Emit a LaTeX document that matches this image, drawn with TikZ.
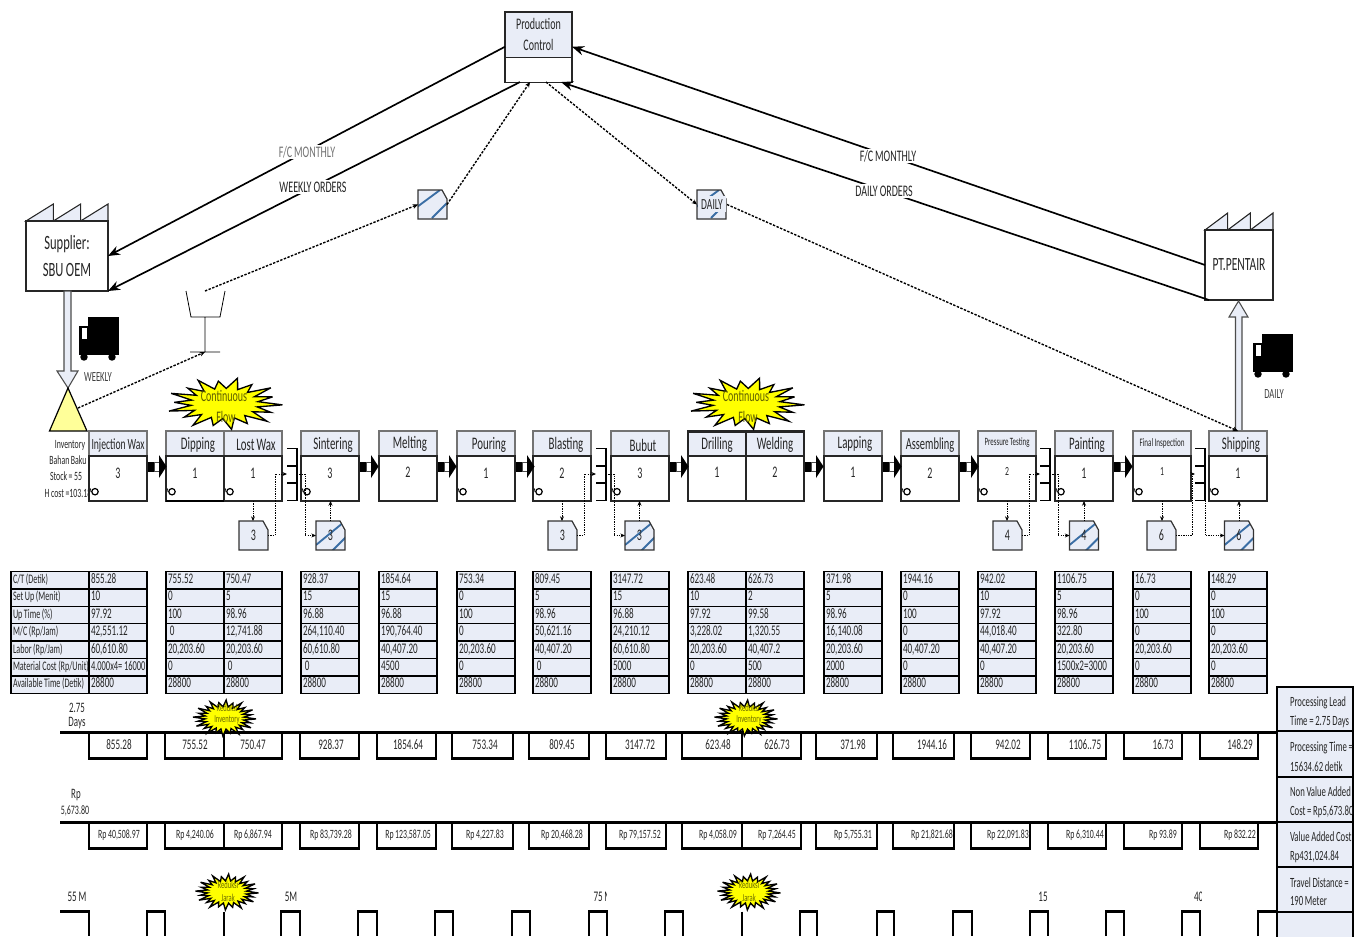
\documentclass[tikz,border=0pt]{standalone}
\usepackage{fontspec}
\setmainfont[FakeStretch=0.62,WordSpace=0.85]{Carlito}
\usetikzlibrary{arrows.meta}
\definecolor{lb}{HTML}{E9EDF7}
\definecolor{txt}{HTML}{262626}
\definecolor{burstY}{HTML}{FFFF00}
\definecolor{triY}{HTML}{FFFF99}
\definecolor{olive1}{HTML}{5F5F00}
\definecolor{olive2}{HTML}{6A6A00}
\definecolor{stripe}{HTML}{3A6EA5}
\newcommand\fsz[1]{\fontsize{\fpeval{1.1*#1}}{\fpeval{1.1*#1}}\selectfont}
\newcommand\nat[1]{\mbox{\spaceskip=0pt\xspaceskip=0pt\relax #1}}
\tikzset{
  x=0.75pt,y=-0.75pt,
  every node/.style={text=txt,inner sep=0pt,outer sep=0pt},
  hdrbox/.style={draw=black!55,line width=.8pt,fill=lb,minimum width=43.5pt,minimum height=18.75pt,anchor=north west},
  bodybox/.style={draw=black!85,line width=.9pt,fill=white,minimum width=43.5pt,minimum height=33.75pt,anchor=north west},
  cell/.style={draw=black,line width=.95pt,fill=lb,minimum width=43.5pt,minimum height=13.05pt,text width=40.5pt,inner xsep=1.5pt,inner ysep=0pt,align=left,anchor=north west,text height=7pt,text depth=2pt,font=\fsz{10}},
  labelcell/.style={cell,minimum width=58.5pt,text width=55.5pt,font=\fsz{8.9}},
  solidline/.style={draw=black,line width=1.25pt,-{Stealth[length=9pt,width=7pt]}},
  dotline/.style={draw=black,line width=1.05pt,dash pattern=on 1.8pt off 1.1pt,-{Stealth[length=4pt,width=3.5pt]}},
  fineline/.style={draw=black,line width=.6pt,dash pattern=on 1pt off .8pt,-{Stealth[length=3.5pt,width=3pt]}},
  tl/.style={draw=black,line width=2.2pt,line cap=butt,line join=miter},
  lbl/.style={fill=white,inner xsep=1pt,inner ysep=1pt,font=\fsz{11}},
  sumtxt/.style={anchor=west,font=\fsz{9.6}},
  cardtxt/.style={minimum width=21.75pt,minimum height=21.75pt,anchor=north west,font=\fsz{11}},
}
\newcommand\tcell[4]{\node[cell] (#1) at (#2,{571.5+17.4*#3}) {\nat{#4}};}
\newcommand\tcol[9]{\tcell{#1a}{#2}{0}{#3}\tcell{#1b}{#2}{1}{#4}\tcell{#1c}{#2}{2}{#5}\tcell{#1d}{#2}{3}{#6}\tcell{#1e}{#2}{4}{#7}\tcell{#1f}{#2}{5}{#8}\tcell{#1g}{#2}{6}{#9}}
\newcommand\burst[7]{\filldraw[fill=burstY,draw=black,line width=#7,line join=miter,miter limit=6] plot[samples at={0,...,#5},variable=\t] ({#1+#3*(mod(\t,2)==0 ? 1-0.2*mod(\t*3,4)/3 : #6)*cos(\t/(#5+1)*360+3)},{#2+#4*(mod(\t,2)==0 ? 1-0.2*mod(\t*5,4)/3 : #6)*sin(\t/(#5+1)*360+3)}) -- cycle;}
\newcommand\push[1]{\fill[black] (#1+1,462) rectangle (#1+7,472);\draw[black!70,line width=.6pt,fill=white] (#1+7,462.3) rectangle (#1+12,471.7);\fill[black] (#1+12,455) -- (#1+19.5,466.5) -- (#1+12,478) -- cycle;}
\newcommand\clk[1]{\draw[black,line width=.9pt] (#1,491.7) circle[radius=2.4pt];\draw[black,line width=.6pt] (#1-4.5,488.5) -- (#1-4,492);}
\newcommand\smk[1]{\draw[black,line width=.9pt] (#1,448.5) -- (#1+10,448.5) -- (#1+10,500.7) -- (#1,500.7);\draw[black,line width=1.2pt] (#1,466) -- (#1+10,466) (#1,483) -- (#1+10,483);}
\newcommand\cardpath{(0,0) -- (24,0) -- (29,9) -- (29,29) -- (0,29) -- cycle}
\newcommand\docshape[2]{\filldraw[shift={(#1,#2)},fill=lb,draw=black!80,line width=.9pt] \cardpath;}
\newcommand\stripes[3]{\begin{scope}[shift={(#1,#2)}]\fill[lb] \cardpath;\begin{scope}\clip \cardpath;\draw[stripe,line width=1.4pt] #3;\end{scope}\draw[black!80,line width=.9pt] \cardpath;\end{scope}}
\newcommand\truck[2]{\fill[black] (#1+9,#2) rectangle (#1+40,#2+38);\fill[black] (#1,#2+9) rectangle (#1+10,#2+38);\fill[white] (#1+3,#2+11) rectangle (#1+8,#2+22);\fill[black] (#1+5,#2+40) circle[radius=2.8pt] (#1+33,#2+40) circle[radius=2.8pt];}
\newcommand\factory[4]{\filldraw[fill=lb,draw=black!85,line width=.8pt] (#1,#3) -- (#1+#2,#4) -- (#1+#2,#3) -- cycle (#1+#2,#3) -- (#1+2*#2,#4) -- (#1+2*#2,#3) -- cycle (#1+2*#2,#3) -- (#1+3*#2,#4) -- (#1+3*#2,#3) -- cycle;}
\begin{document}
\begin{tikzpicture}
\useasboundingbox (0,0) rectangle (1363,936);
% production control
\node[draw=black!85,line width=.8pt,fill=lb,minimum width=50.25pt,minimum height=34.1pt,anchor=north west,align=center,font=\fontsize{12.1}{15.75}\selectfont] (pcH) at (505,12) {Production\\Control};
\node[draw=black!85,line width=.8pt,fill=white,minimum width=50.25pt,minimum height=18.4pt,anchor=north west] (pcB) at (505,57.5) {};
% supplier, customer
\factory{26}{27.33}{221}{204}
\node[draw=black!85,line width=.8pt,fill=white,minimum width=61.5pt,minimum height=52.5pt,anchor=north west,align=center,font=\fontsize{15.2}{19.5}\selectfont] (sup) at (26,221) {\raisebox{-1.5pt}{Supplier:}\\\raisebox{-2pt}{SBU OEM}};
\factory{1205}{22.67}{230}{213}
\node[draw=black!85,line width=.8pt,fill=white,minimum width=51pt,minimum height=52.5pt,anchor=north west,font=\fsz{12.7}] (pent) at (1205,230) {\raisebox{-2pt}{PT.PENTAIR}};
% information lines
\draw[solidline] ([yshift=-9pt]pcH.west) -- (sup.east);
\draw[solidline] ([xshift=11.25pt]pcB.south west) -- (sup.south east);
\draw[solidline] (pent.west) -- ([yshift=-9pt]pcH.east);
\draw[solidline] ([xshift=3pt]pent.south west) -- ([xshift=-8.25pt]pcB.south east);
\node[lbl,text=black!55] (lfc) at (307,152) {F/C MONTHLY};
\node[lbl] (lwo) at (313,187) {WEEKLY ORDERS};
\node[lbl] (rfc) at (888,156) {F/C MONTHLY};
\node[lbl] (rdo) at (884,191) {DAILY ORDERS};
% arrows and trucks
\filldraw[fill=lb,draw=black!70,line width=.8pt] (64,291) -- (71,291) -- (71,371) -- (78,371) -- (68,388) -- (57,371) -- (64,371) -- cycle;
\filldraw[fill=lb,draw=black!70,line width=.8pt] (1235.5,431) -- (1235.5,317) -- (1229,317) -- (1238.5,301) -- (1248,317) -- (1242,317) -- (1242,431) -- cycle;
\truck{79}{317}
\truck{1253}{334}
\node[text=black!75,font=\fsz{9.5}] (wk) at (98,377) {WEEKLY};
\node[text=black!75,font=\fsz{9.5}] (dl) at (1274,394) {DAILY};
% inventory triangle
\filldraw[fill=triY,draw=black,line width=.9pt] (68,388) -- (87,431) -- (49.5,431) -- cycle;
\coordinate (trir) at (78,408);
\node[font=\fsz{8.6}] (inv1) at (70,445) {Inventory};
\node[font=\fsz{8.6}] (inv2) at (68,460) {Bahan Baku};
\node[font=\fsz{8.6}] (inv3) at (66,476) {Stock = 55};
\node[font=\fsz{8.6}] (inv4) at (68,493) {H cost =103.18};
% kanban post
\draw[black,line width=.6pt] (186,291) -- (191,317) -- (220,317) -- (225,291) (205,317) -- (205,352) (190,352) -- (220,352);
\coordinate (posttop) at (205,291);
\coordinate (postbase) at (205,352);
% signal cards
\stripes{418}{190}{(-1,17) -- (22,0) (14,28) -- (29,13)}
\node[minimum width=21.75pt,minimum height=21.75pt,anchor=north west] (mail) at (418,190) {};
\stripes{697}{190}{(-1,17) -- (22,0) (14,28) -- (29,13)}
\fill[lb] (698,196) rectangle (725.5,212);
\node[minimum width=22.5pt,minimum height=21.75pt,anchor=north west,font=\fsz{10.5}] (daily) at (697,190) {DAILY};
\draw[dotline] (posttop) -- (mail.west);
\draw[dotline] (mail.east) -- ([xshift=18.75pt]pcB.south west);
\draw[dotline] ([xshift=30.75pt]pcB.south west) -- (daily.west);
\draw[dotline] (trir) -- (postbase);
% processes
\foreach \id/\x/\nm/\num/\sz/\nsz/\dx/\ny/\hy in {
 inj/89/Injection Wax/3/10.6/11/0/473/445,
 dip/166/Dipping/1/12/11/3/473/445,
 lw/224/Lost Wax/1/12/11/3/473/445,
 sin/301/Sintering/3/12/11/3/473/445,
 mel/379/Melting/2/12/11/2/472/444,
 pou/457/Pouring/1/12/11/3/473/445,
 bla/533/Blasting/2/12/11/4/473/445,
 bub/611/Bubut/3/12/11/3/473/445,
 dri/688/Drilling/1/12/11/0/472/445,
 wel/746/Welding/2/12/11/0/472/445,
 lap/824/Lapping/1/12/11/2/472/444,
 ass/901/Assembling/2/11.5/11/0/473/445,
 pre/978/Pressure Testing/2/7.6/8.5/0/471/443,
 pai/1055/Painting/1/12/11/3/473/445,
 fin/1133/Final Inspection/1/7.8/8.5/0/471/443,
 shi/1209/Shipping/1/12/11/3/473/445}{
  \node[hdrbox] (\id h) at (\x,431) {};
  \node[bodybox] (\id) at (\x,456) {};
  \node[font=\fsz{\sz}] (\id t) at ({\x+29+\dx},\hy) {\nm};
  \node[font=\fsz{\nsz}] (\id n) at ({\x+29},\ny) {\num};
}
\draw[black!85,line width=1.6pt] (688,431.5) rectangle (746,456) (746,431.5) rectangle (804,456);
\draw[black,line width=.9pt] (166,501) -- (224,501);
\foreach \cx in {95,172,230,307,463,539,617,907,984,1061,1139,1215}{\clk{\cx}}
\foreach \px in {147,359,437,515,669,804,882,959,1113}{\push{\px}}
\smk{287}\smk{596}\smk{1040}\smk{1195}
\draw[dotline] (daily.east) -- (shih.north);
% kanbans
\foreach \i/\ax/\bx in {1/239/316,2/548/625,3/993/1069.5,4/1147/1224.5}{
  \docshape{\ax}{521}
  \stripes{\bx}{521}{(0,24) -- (28,1) (15,31) -- (32,14)}
}
\node[cardtxt] (k1) at (239,521) {3};
\node[cardtxt] (w1) at (316,521) {3};
\node[cardtxt] (k2) at (548,521) {3};
\node[cardtxt] (w2) at (625,521) {3};
\node[cardtxt] (k3) at (993,521) {4};
\node[cardtxt] (w3) at (1069.5,521) {4};
\node[cardtxt] (k4) at (1147,521) {6};
\node[cardtxt] (w4) at (1224.5,521) {6};
\coordinate (s1i) at (287,474);\coordinate (s1o) at (297,474);
\coordinate (s2i) at (596,474);\coordinate (s2o) at (606,474);
\coordinate (s3i) at (1040,474);\coordinate (s3o) at (1050,474);
\coordinate (s4i) at (1195,474);\coordinate (s4o) at (1205,474);
\draw[fineline] (lw.south) -- (lw.south |- k1.north);
\draw[fineline] (bla.south) -- (bla.south |- k2.north);
\draw[fineline] (pre.south) -- (pre.south |- k3.north);
\draw[fineline] (fin.south) -- (fin.south |- k4.north);
\draw[fineline] (k1.east) -- ++(7,0) |- (s1i);
\draw[fineline] (k2.east) -- ++(7,0) |- (s2i);
\draw[fineline] (k3.east) -- ++(7,0) |- (s3i);
\draw[fineline] (k4.east) -- ++(16,0) |- (s4i);
\draw[fineline] (s1o) -- ++(8,0) |- (w1.west);
\draw[fineline] (s2o) -- ++(8,0) |- (w2.west);
\draw[fineline] (s3o) -- ++(8,0) |- (w3.west);
\draw[fineline] (s4o) |- (w4.west);
\draw[fineline] (w1.north) -- (w1.north |- sin.south);
\draw[fineline] (w2.north) -- (w2.north |- bub.south);
\draw[fineline] (w3.north) -- (w3.north |- pai.south);
\draw[fineline] (w4.north) -- (w4.north |- shi.south);
% bursts on processes
\burst{224.5}{403.5}{58}{26}{35}{0.58}{1pt}
\node[text=olive1,font=\fsz{11}] (cf1a) at (224,396) {Continuous};
\node[text=olive1,font=\fsz{11}] (cf1b) at (226,417) {Flow};
\burst{746.5}{403.5}{58}{26}{35}{0.58}{1pt}
\node[text=olive1,font=\fsz{11}] (cf2a) at (746,396) {Continuous};
\node[text=olive1,font=\fsz{11}] (cf2b) at (748,417) {Flow};
% data table
\node[labelcell] (la) at (11,571.5) {\nat{C/T (Detik)}};
\node[labelcell] (lb1) at (11,588.9) {\nat{Set Up (Menit)}};
\node[labelcell] (lc) at (11,606.3) {\nat{Up Time (\%)}};
\node[labelcell] (ld) at (11,623.7) {\nat{M/C (Rp/Jam)}};
\node[labelcell] (le) at (11,641.1) {\nat{Labor (Rp/Jam)}};
\node[labelcell] (lf) at (11,658.5) {\nat{Material Cost (Rp/Unit)}};
\node[labelcell] (lg) at (11,675.9) {\nat{Available Time (Detik)}};
\tcol{c1}{89}{855.28}{10}{97.92}{42,551.12}{60,610.80}{\fsz{9.3}4.000x4= 16000}{28800}
\tcol{c2}{166}{755.52}{0}{100}{\ 0}{20,203.60}{0}{28800}
\tcol{c3}{224}{750.47}{5}{98.96}{12,741.88}{20,203.60}{\ 0}{28800}
\tcol{c4}{301}{928.37}{15}{96.88}{264,110.40}{60,610.80}{\ 0}{28800}
\tcol{c5}{379}{1854.64}{15}{96.88}{190,764.40}{40,407.20}{4500}{28800}
\tcol{c6}{457}{753.34}{0}{100}{0}{20,203.60}{0}{28800}
\tcol{c7}{533}{809.45}{5}{98.96}{50,621.16}{40,407.20}{\ 0}{28800}
\tcol{c8}{611}{3147.72}{15}{96.88}{24,210.12}{60,610.80}{5000}{28800}
\tcol{c9}{688}{623.48}{10}{97.92}{3,228.02}{20,203.60}{0}{28800}
\tcol{c10}{746}{626.73}{2}{99.58}{1,320.55}{40,407.2}{500}{28800}
\tcol{c11}{824}{371.98}{5}{98.96}{16,140.08}{20,203.60}{2000}{28800}
\tcol{c12}{901}{1944.16}{0}{100}{0}{40,407.20}{0}{28800}
\tcol{c13}{978}{942.02}{10}{97.92}{44,018.40}{40,407.20}{0}{28800}
\tcol{c14}{1055}{1106.75}{5}{98.96}{322.80}{20,203.60}{1500x2=3000}{28800}
\tcol{c15}{1133}{16.73}{0}{100}{0}{20,203.60}{0}{28800}
\tcol{c16}{1209}{148.29}{0}{100}{0}{20,203.60}{0}{28800}
% timeline frames
\foreach \yt/\yb in {732.3/758.5,822.3/848.3}{
  \draw[tl] (60,\yt) -- (1277,\yt);
  \foreach \a/\b in {89/147,165/282,300/359,377/436,452/513,529/589,606/666,682/801,816/877,893/954,971/1030,1048/1106,1124/1182,1200/1258}{
    \draw[tl] (\a,\yt) -- (\a,\yb) -- (\b,\yb) -- (\b,\yt);
  }
  \draw[tl] (224,\yt) -- (224,\yb) (742,\yt) -- (742,\yb);
}
\draw[tl] (60,911.7) -- (89,911.7) -- (89,936);
\foreach \a/\b in {147/165,281/300,358/377,435/453,512/530,589/607,665/683,800/817,877/894,953/972,1030/1048,1106/1124,1182/1200,1258/1277}{
  \draw[tl] (\a,936) -- (\a,911.7) -- (\b,911.7) -- (\b,936);
}
\draw[tl] (224,911.7) -- (224,936) (742,911.7) -- (742,936);
\foreach \n/\x/\tv/\cv in {
 1/119/855.28/{Rp 40,508.97},
 2/195/755.52/{Rp 4,240.06},
 3/253/750.47/{Rp 6,867.94},
 4/331/928.37/{Rp 83,739.28},
 5/408/1854.64/{Rp 123,587.05},
 6/485/753.34/{Rp 4,227.83},
 7/562/809.45/{Rp 20,468.28},
 8/640/3147.72/{Rp 79,157.52},
 9/718/623.48/{Rp 4,058.09},
 10/777/626.73/{Rp 7,264.45},
 11/853/371.98/{Rp 5,755.31},
 12/932/1944.16/{Rp 21,821.68},
 13/1008/942.02/{Rp 22,091.83},
 14/1085/1106..75/{Rp 6,310.44},
 15/1163/16.73/{Rp 93.89},
 16/1240/148.29/{Rp 832.22}}{
  \node[font=\fsz{10}] (t\n) at (\x,745) {\tv};
  \node[font=\fsz{8.6}] (m\n) at (\x,835) {\cv};
}
% left labels
\node[font=\fsz{9.8}] (d1) at (77,708) {2.75};
\node[font=\fsz{9.8}] (d2) at (77,723) {Days};
\node[font=\fsz{9.8}] (r1) at (76,795) {Rp};
\node[font=\fsz{8.8}] (r2) at (75,811) {5,673.80};
\node[font=\fsz{10}] (m55) at (77,896.5) {55 M};
\node[font=\fsz{10}] (m5) at (291,896.5) {5M};
\begin{scope}
\clip (590,885) rectangle (606,905);
\node[anchor=west,font=\fsz{10}] (m75) at (593.5,896.5) {75 M};
\end{scope}
\node[font=\fsz{10}] (m15) at (1043,896.5) {15};
\begin{scope}
\clip (1190,885) rectangle (1201,905);
\node[anchor=west,font=\fsz{10}] (m40) at (1194,896.5) {40};
\end{scope}
% reduction bursts
\burst{224.5}{718}{31.5}{18}{47}{0.62}{1pt}
\node[text=olive2,font=\fsz{7.2}] (ri1a) at (227,708) {Reduksi};
\node[text=olive2,font=\fsz{7.2}] (ri1b) at (227,720) {Inventory};
\burst{746}{718}{31.5}{18}{47}{0.62}{1pt}
\node[text=olive2,font=\fsz{7.2}] (ri2a) at (749,708) {Reduksi};
\node[text=olive2,font=\fsz{7.2}] (ri2b) at (749,720) {Inventory};
\burst{227}{892}{31.5}{18}{47}{0.62}{1pt}
\node[text=olive2,font=\fsz{7.2}] (rj1a) at (228,885) {Reduksi};
\node[text=olive2,font=\fsz{7.2}] (rj1b) at (228,898) {Jarak};
\burst{749}{892}{31.5}{18}{47}{0.62}{1pt}
\node[text=olive2,font=\fsz{7.2}] (rj2a) at (749,885) {Reduksi};
\node[text=olive2,font=\fsz{7.2}] (rj2b) at (749,898) {Jarak};
% summary
\foreach \n/\a/\b in {1/687/731,2/731/777,3/777/822,4/822/867,5/867/912,6/912/945}{
  \node[draw=black,line width=2.2pt,fill=lb,minimum width=57pt,minimum height={(\b-\a)*0.75pt},anchor=north west] (s\n) at (1277,\a) {};
}
\begin{scope}
\clip (1277,687) rectangle (1352,912);
\node[sumtxt] (s1a) at (1290,703) {Processing Lead};
\node[sumtxt] (s1b) at (1290,722) {Time = 2.75 Days};
\node[sumtxt] (s2a) at (1290,748) {Processing Time =};
\node[sumtxt] (s2b) at (1290,767) {15634.62 detik};
\node[sumtxt] (s3a) at (1290,792) {Non Value Added};
\node[sumtxt] (s3b) at (1290,812) {Cost = Rp5,673.80};
\node[sumtxt] (s4a) at (1290,837) {Value Added Cost};
\node[sumtxt] (s4b) at (1290,857) {Rp431,024.84};
\node[sumtxt] (s5a) at (1290,883) {Travel Distance =};
\node[sumtxt] (s5b) at (1290,901) {190 Meter};
\end{scope}
\end{tikzpicture}
\end{document}
